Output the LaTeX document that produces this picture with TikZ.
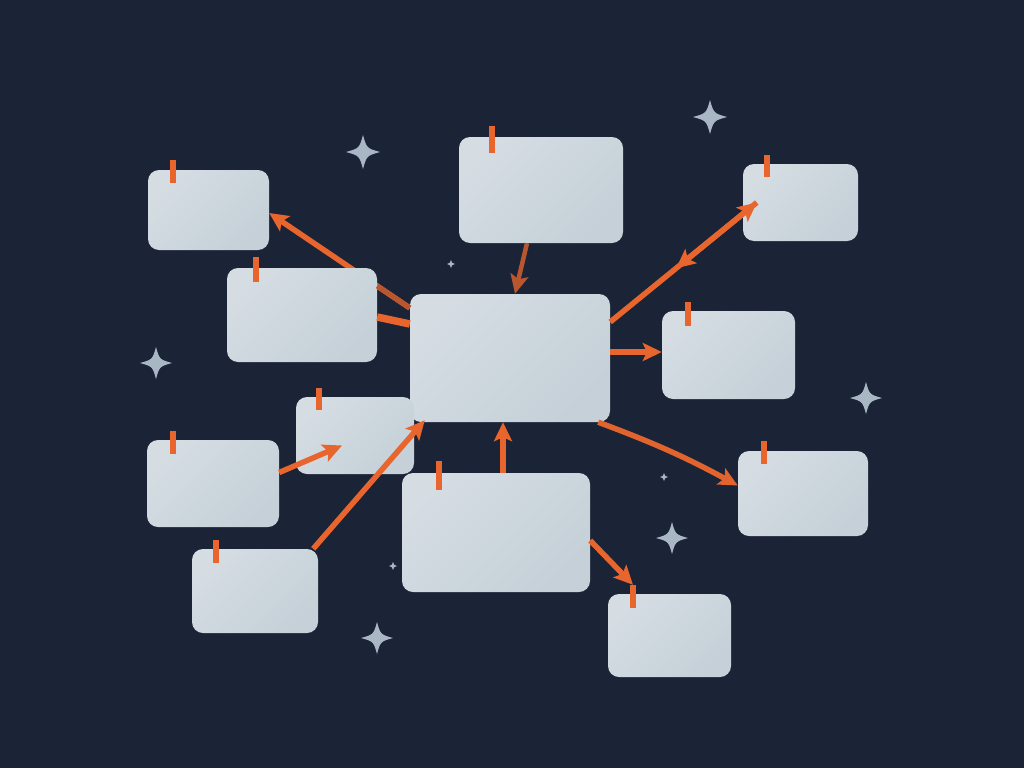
\documentclass[tikz,border=0pt]{standalone}
\usetikzlibrary{arrows.meta,calc,decorations.markings}
\definecolor{bg}{HTML}{1B2336}
\definecolor{boxl}{HTML}{D5DDE3}
\definecolor{boxr}{HTML}{C5D0D8}
\definecolor{org}{HTML}{E8652E}
\definecolor{orgdark}{HTML}{B8562F}
\definecolor{starc}{HTML}{A9B7C5}
\tikzset{
  box/.style={rounded corners=11pt, top color=boxl, bottom color=boxr, shading angle=45, draw=none, inner sep=0pt},
  tabmark/.style={fill=org, draw=none, minimum width=6pt, minimum height=23pt, inner sep=0pt},
  conn/.style={draw=org, line width=5.5pt, -{Stealth[length=19pt,width=18pt,inset=4pt]}},
}
\newcommand\mysparkle[3]{%
  \fill[starc, shift={(#1,#2)}] (0,{-#3}) .. controls ({0.22*#3},{-0.22*#3}) .. (#3,0)
    .. controls ({0.22*#3},{0.22*#3}) .. (0,#3)
    .. controls ({-0.22*#3},{0.22*#3}) .. ({-#3},0)
    .. controls ({-0.22*#3},{-0.22*#3}) .. cycle;}
\begin{document}
\begin{tikzpicture}[x=1pt,y=-1pt]
\fill[bg] (0,0) rectangle (1024,768);
\useasboundingbox (0,0) rectangle (1024,768);
% sparkles
\mysparkle{363}{152}{17}
\mysparkle{710}{117}{17}
\mysparkle{156}{363}{16}
\mysparkle{866}{398}{16}
\mysparkle{672}{538}{16}
\mysparkle{377}{638}{16}
\mysparkle{451}{264}{4}
\mysparkle{664}{477}{4}
\mysparkle{393}{566}{4}
% boxes (order matters for overlaps)
\node[box, minimum width=200pt, minimum height=128pt] (D) at (510,358) {};
\node[box, minimum width=121pt, minimum height=80pt] (A) at (208.5,210) {};
\draw[conn] ([yshift=50pt]D.west) -- ([yshift=-3pt]A.east);
\node[box, minimum width=150pt, minimum height=94pt] (B) at (302,315) {};
\draw[draw=orgdark, line width=5pt] ([yshift=29pt]B.east) -- ([yshift=50pt]D.west);
\draw[draw=org, line width=7.5pt] ([yshift=-2pt]B.east) -- ([yshift=34pt]D.west);
\node[box, minimum width=164pt, minimum height=106pt] (C) at (541,190) {};
\node[box, minimum width=115pt, minimum height=77pt] (E) at (800.5,202.5) {};
\node[box, minimum width=133pt, minimum height=88pt] (F) at (728.5,355) {};
\node[box, minimum width=118pt, minimum height=77pt] (G) at (355,435.5) {};
\node[box, minimum width=132pt, minimum height=87pt] (H) at (213,483.5) {};
\node[box, minimum width=126pt, minimum height=84pt] (I) at (255,591) {};
\node[box, minimum width=188pt, minimum height=119pt] (J) at (496,532.5) {};
\node[box, minimum width=130pt, minimum height=85pt] (K) at (803,493.5) {};
\node[box, minimum width=123pt, minimum height=83pt] (L) at (669.5,635.5) {};
% tabs
\node[tabmark] (At) at (173,171.5) {};
\node[tabmark, minimum height=25pt] (Bt) at (256,269.5) {};
\node[tabmark, minimum height=27pt] (Ct) at (492,139.5) {};
\node[tabmark, minimum height=22pt] (Et) at (767,166) {};
\node[tabmark, minimum height=24pt] (Ft) at (688,314) {};
\node[tabmark, minimum height=22pt] (Gt) at (319,399) {};
\node[tabmark] (Ht) at (173,442.5) {};
\node[tabmark] (It) at (216,551.5) {};
\node[tabmark, minimum height=29pt] (Jt) at (439,475.5) {};
\node[tabmark] (Kt) at (764,452.5) {};
\node[tabmark] (Lt) at (633,596.5) {};
% connectors
\draw[conn, draw=orgdark, line width=4.5pt] ([xshift=-14pt]C.south) -- ([xshift=5pt]D.north);
\draw[conn] ([yshift=36pt]D.east) -- ([xshift=14pt]E.west);
\coordinate (Emid) at ($([yshift=36pt]D.east)!0.45!([xshift=14pt]E.west)$);
\draw[conn] ([xshift=14pt]E.west) -- (Emid);
\draw[conn] ([yshift=6pt]D.east) -- ([yshift=3pt]F.west);
\draw[conn, draw=org!85!orgdark] ([xshift=-12pt]D.south east) to[bend left=4] ([yshift=8pt]K.west);
\draw[conn] ([xshift=7pt]J.north) -- ([xshift=-7pt]D.south);
\draw[conn] ([yshift=-8pt]J.east) -- (Lt.north);
\draw[conn] ([yshift=11pt]H.east) -- ([xshift=-13pt,yshift=-10pt]G.center);
\draw[conn] ([xshift=-5pt]I.north east) -- ([xshift=15pt,yshift=2pt]D.south west);
\end{tikzpicture}
\end{document}
